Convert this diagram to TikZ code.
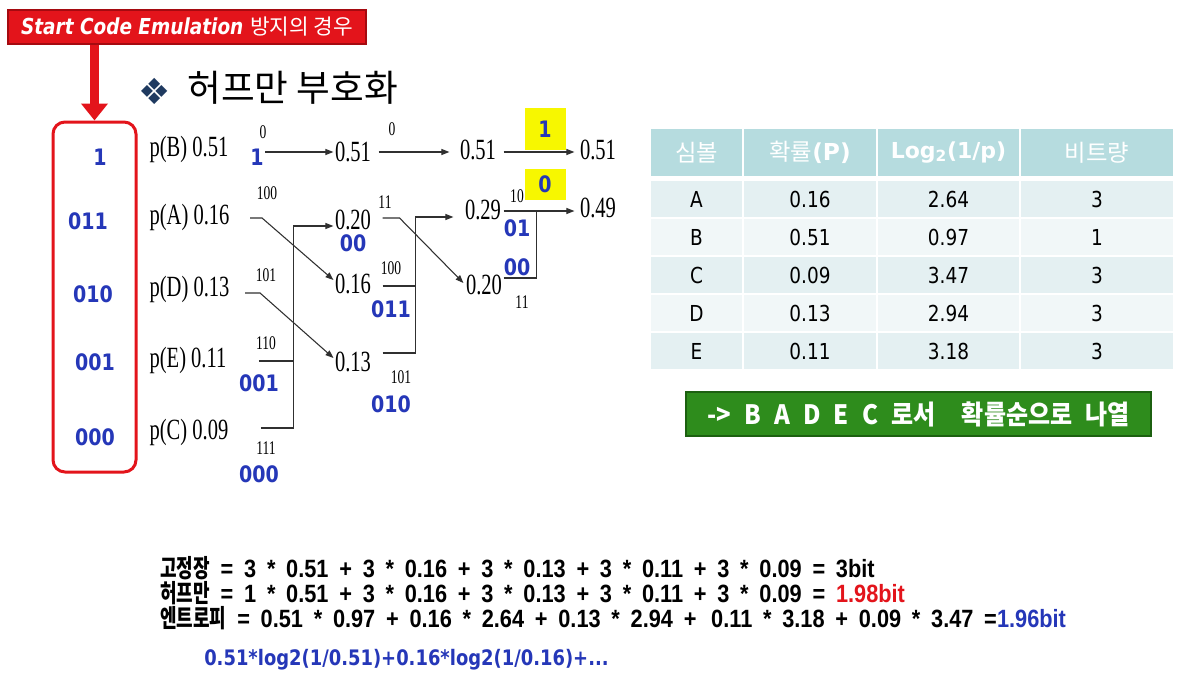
\documentclass[tikz,border=0pt]{standalone}
\usepackage{fontspec}
\usepackage{xcolor}
\usepackage{tikz}
\usetikzlibrary{arrows.meta,positioning,calc}
\setmainfont{Liberation Serif}[FakeStretch=0.7]
\newfontfamily\dv{DejaVu Sans}[FakeStretch=0.84]
\newfontfamily\dvw{DejaVu Sans}
\newfontfamily\kr{Noto Sans CJK KR}
\newfontfamily\krn{Noto Sans CJK KR}[FakeStretch=0.72]
\newfontfamily\krb{Noto Sans CJK KR}[FakeStretch=0.9,WordSpace=2.4]
\newfontfamily\eqf{Liberation Sans}[FakeStretch=0.87,WordSpace=1.78]
\definecolor{hfRed}{HTML}{E3141B}
\definecolor{hfDarkRed}{HTML}{A50A10}
\definecolor{hfBlue}{HTML}{2537B8}
\definecolor{hfYellow}{HTML}{F7F700}
\definecolor{hfHead}{HTML}{B6DCDF}
\definecolor{hfRowA}{HTML}{E4F0F2}
\definecolor{hfRowB}{HTML}{F1F7F8}
\definecolor{hfGreen}{HTML}{2E8C1C}
\definecolor{hfDarkGreen}{HTML}{1C6010}
\definecolor{hfNavy}{HTML}{1F3A60}
\definecolor{hfLine}{HTML}{303030}

\begin{document}
\begin{tikzpicture}[
  x=0.75pt,y=-0.75pt,
  val/.style={font=\fontsize{22}{22}\selectfont,inner sep=1pt},
  bit/.style={font=\fontsize{14.5}{15}\selectfont,inner sep=0.5pt},
  code/.style={font=\dv\bfseries\fontsize{17}{17}\selectfont,text=hfBlue,inner sep=0pt},
  ln/.style={draw=hfLine,line width=0.8pt},
  ar/.style={ln,-{Triangle[length=6pt,width=4.5pt]}},
  ybox/.style={code,fill=hfYellow,minimum width=30.75pt},
  cell/.style={font=\dv\fontsize{16.5}{17}\selectfont,inner sep=0pt,minimum height=27pt},
  head/.style={fill=hfHead,text=white,inner sep=0pt,minimum height=35.25pt},
  eqn/.style={font=\eqf\bfseries\fontsize{18.75}{19}\selectfont,anchor=west,inner sep=0pt}]

\useasboundingbox (0,0) rectangle (1183,676);
\fill[white] (0,0) rectangle (1183,676);

% banner and code column
\node[fill=hfRed,draw=hfDarkRed,line width=1.5pt,minimum width=268.5pt,minimum height=25.5pt,
      text=white,inner sep=0pt] (start) at (187,27)
     {{\dv\bfseries\itshape\fontsize{16.5}{16}\selectfont Start Code Emulation}\hspace{5pt}{\kr\fontsize{16}{16}\selectfont 방지의 경우}};
\node[draw=hfRed,line width=2.25pt,rounded corners=9pt,minimum width=62.25pt,minimum height=262.5pt]
     (codes) at (94.5,297) {};
\draw[draw=hfRed,line width=6.75pt,-{Triangle[length=12.75pt,width=19.5pt]}]
     (start.south -| codes.north) -- (codes.north);
\node[code] (k1) at (100,157) {1};
\node[code] (k2) at (88,221) {011};
\node[code] (k3) at (93,294) {010};
\node[code] (k4) at (95,362) {001};
\node[code] (k5) at (95,437) {000};

% title
\node[font=\dvw\fontsize{27}{27}\selectfont,text=hfNavy,inner sep=0pt] (bullet) at (155,91) {❖};
\node[font=\kr\fontsize{27.5}{28}\selectfont,anchor=west,inner sep=0pt] (title) at (187,88) {허프만 부호화};

% huffman tree
\node[val,anchor=west] (pB) at (148,149) {p(B) 0.51};
\node[val,anchor=west] (pA) at (148,217) {p(A) 0.16};
\node[val,anchor=west] (pD) at (148,289) {p(D) 0.13};
\node[val,anchor=west] (pE) at (148,360) {p(E) 0.11};
\node[val,anchor=west] (pC) at (148,432) {p(C) 0.09};

\node[val] (s1B) at (353,152) {0.51};
\node[val] (s1A) at (353,220) {0.20};
\node[val] (s1C) at (353,284) {0.16};
\node[val] (s1D) at (353,362) {0.13};
\node[val] (s2B) at (478,150) {0.51};
\node[val] (s2A) at (483,210) {0.29};
\node[val] (s2C) at (484,285) {0.20};
\node[val] (s3B) at (598,150) {0.51};
\node[val] (s3A) at (598,208) {0.49};

\node[bit] (bB1) at (263,132) {0};
\node[bit] (bA1) at (267,193) {100};
\node[bit] (bD1) at (266,275) {101};
\node[bit] (bE1) at (266,343) {110};
\node[bit] (bC1) at (266,448) {111};
\node[bit] (bB2) at (392,129) {0};
\node[bit] (bA2) at (385,202) {11};
\node[bit] (bC2) at (391,268) {100};
\node[bit] (bD2) at (401,377) {101};
\node[bit] (bA3) at (517,196) {10};
\node[bit] (bC3) at (522,302) {11};

\node[code] (cB) at (257,157) {1};
\node[code] (cE) at (259,383) {001};
\node[code] (cC) at (259,474) {000};
\node[code] (cA1) at (353,243) {00};
\node[code] (cC1) at (391,309) {011};
\node[code] (cD1) at (391,404) {010};
\node[code] (cA2) at (517,228) {01};
\node[code] (cC2) at (517,267) {00};
\node[ybox,minimum height=31.5pt] (y1) at (545,129) {1};
\node[ybox,minimum height=23.25pt] (y0) at (545,184) {0};

\draw[ar] ($(s1B.west)+(-68,0)$) -- (s1B.west);
\draw[ar] ($(pA.east)+(19,1)$) -- ++(12,0) -- ($(s1C.west)+(0,-4)$);
\draw[ar] ($(pD.east)+(14,4)$) -- ++(15,0) -- ($(s1D.west)+(0,-4)$);
\coordinate (j1) at ($(pC.east)+(64,-4)$);
\draw[ln] ($(pE.east)+(31,1)$) -- (j1 |- {$(pE.east)+(0,1)$});
\draw[ar] ($(pC.east)+(31,-4)$) -- (j1) |- ($(s1A.west)+(0,6)$);

\draw[ar] ($(s1B.east)+(6,0)$) -- ($(s2B.west)+(-9,2)$);
\draw[ar] ($(s1A.east)+(10,-2)$) -- ++(17,0) -- ($(s2C.west)+(-1,-2)$);
\draw[ln] ($(s1C.east)+(10,2)$) -- ++(33,0);
\draw[ar] ($(s1D.east)+(10,-9)$) -- ++(33,0) |- ($(s2A.west)+(-10,7)$);

\draw[ar] ($(s2B.east)+(6,2)$) -- ($(s3B.west)+(-4,2)$);
\draw[ar] ($(s2A.east)+(1,1)$) -- ($(s3A.west)+(-4,3)$);
\draw[ln] ($(s2C.east)+(0,-7)$) -- ++(33,0) -- ++(0,-67);

% table
\node[head,minimum width=68.25pt,font=\kr\fontsize{17.5}{17}\selectfont] (h1) at (696.5,152.5) {심볼};
\node[head,minimum width=99pt,font=\kr\fontsize{17.5}{17}\selectfont] (h2) at (810,152.5) {확률{\dvw\bfseries(P)}};
\node[head,minimum width=105.75pt,font=\dvw\bfseries\fontsize{16.5}{16}\selectfont] (h3) at (948.5,152.5) {Log\textsubscript{2}(1/p)};
\node[head,minimum width=114pt,font=\kr\fontsize{17.5}{17}\selectfont] (h4) at (1097,152.5) {비트량};
\foreach \s/\p/\l/\b/\f [count=\r] in {A/0.16/2.64/3/hfRowA,B/0.51/0.97/1/hfRowB,
    C/0.09/3.47/3/hfRowA,D/0.13/2.94/3/hfRowB,E/0.11/3.18/3/hfRowA}{
  \node[cell,fill=\f,minimum width=68.25pt] (sym\r) at ({696.5},{161+38*\r}) {\s};
  \node[cell,fill=\f,minimum width=99pt] (prob\r) at ({810},{161+38*\r}) {\p};
  \node[cell,fill=\f,minimum width=105.75pt] (log\r) at ({948.5},{161+38*\r}) {\l};
  \node[cell,fill=\f,minimum width=114pt] (bits\r) at ({1097},{161+38*\r}) {\b};
}

\node[fill=hfGreen,draw=hfDarkGreen,line width=2pt,minimum width=348.75pt,minimum height=33pt,
      text=white,inner sep=0pt,font=\krb\bfseries\fontsize{20}{20}\selectfont] (order) at (918.5,414)
     {-> B A D E C 로서 \ 확률순으로 나열};

% equations
\node[eqn] (fixed) at (160,568) {{\krn\bfseries 고정장} = 3 * 0.51 + 3 * 0.16 + 3 * 0.13 + 3 * 0.11 + 3 * 0.09 = 3bit};
\node[eqn] (huff) at (160,593) {{\krn\bfseries 허프만} = 1 * 0.51 + 3 * 0.16 + 3 * 0.13 + 3 * 0.11 + 3 * 0.09 = {\color{hfRed}1.98bit}};
\node[eqn] (entropy) at (160,618) {{\krn\bfseries 엔트로피} = 0.51 * 0.97 + 0.16 * 2.64 + 0.13 * 2.94 +\hspace{3pt} 0.11 * 3.18 + 0.09 * 3.47 ={\color{hfBlue}1.96bit}};
\node[anchor=west,inner sep=0pt,text=hfBlue,font=\dv\bfseries\fontsize{16}{17}\selectfont] (hint) at (204,660)
     {0.51*log2(1/0.51)+0.16*log2(1/0.16)+...};
\end{tikzpicture}
\end{document}
